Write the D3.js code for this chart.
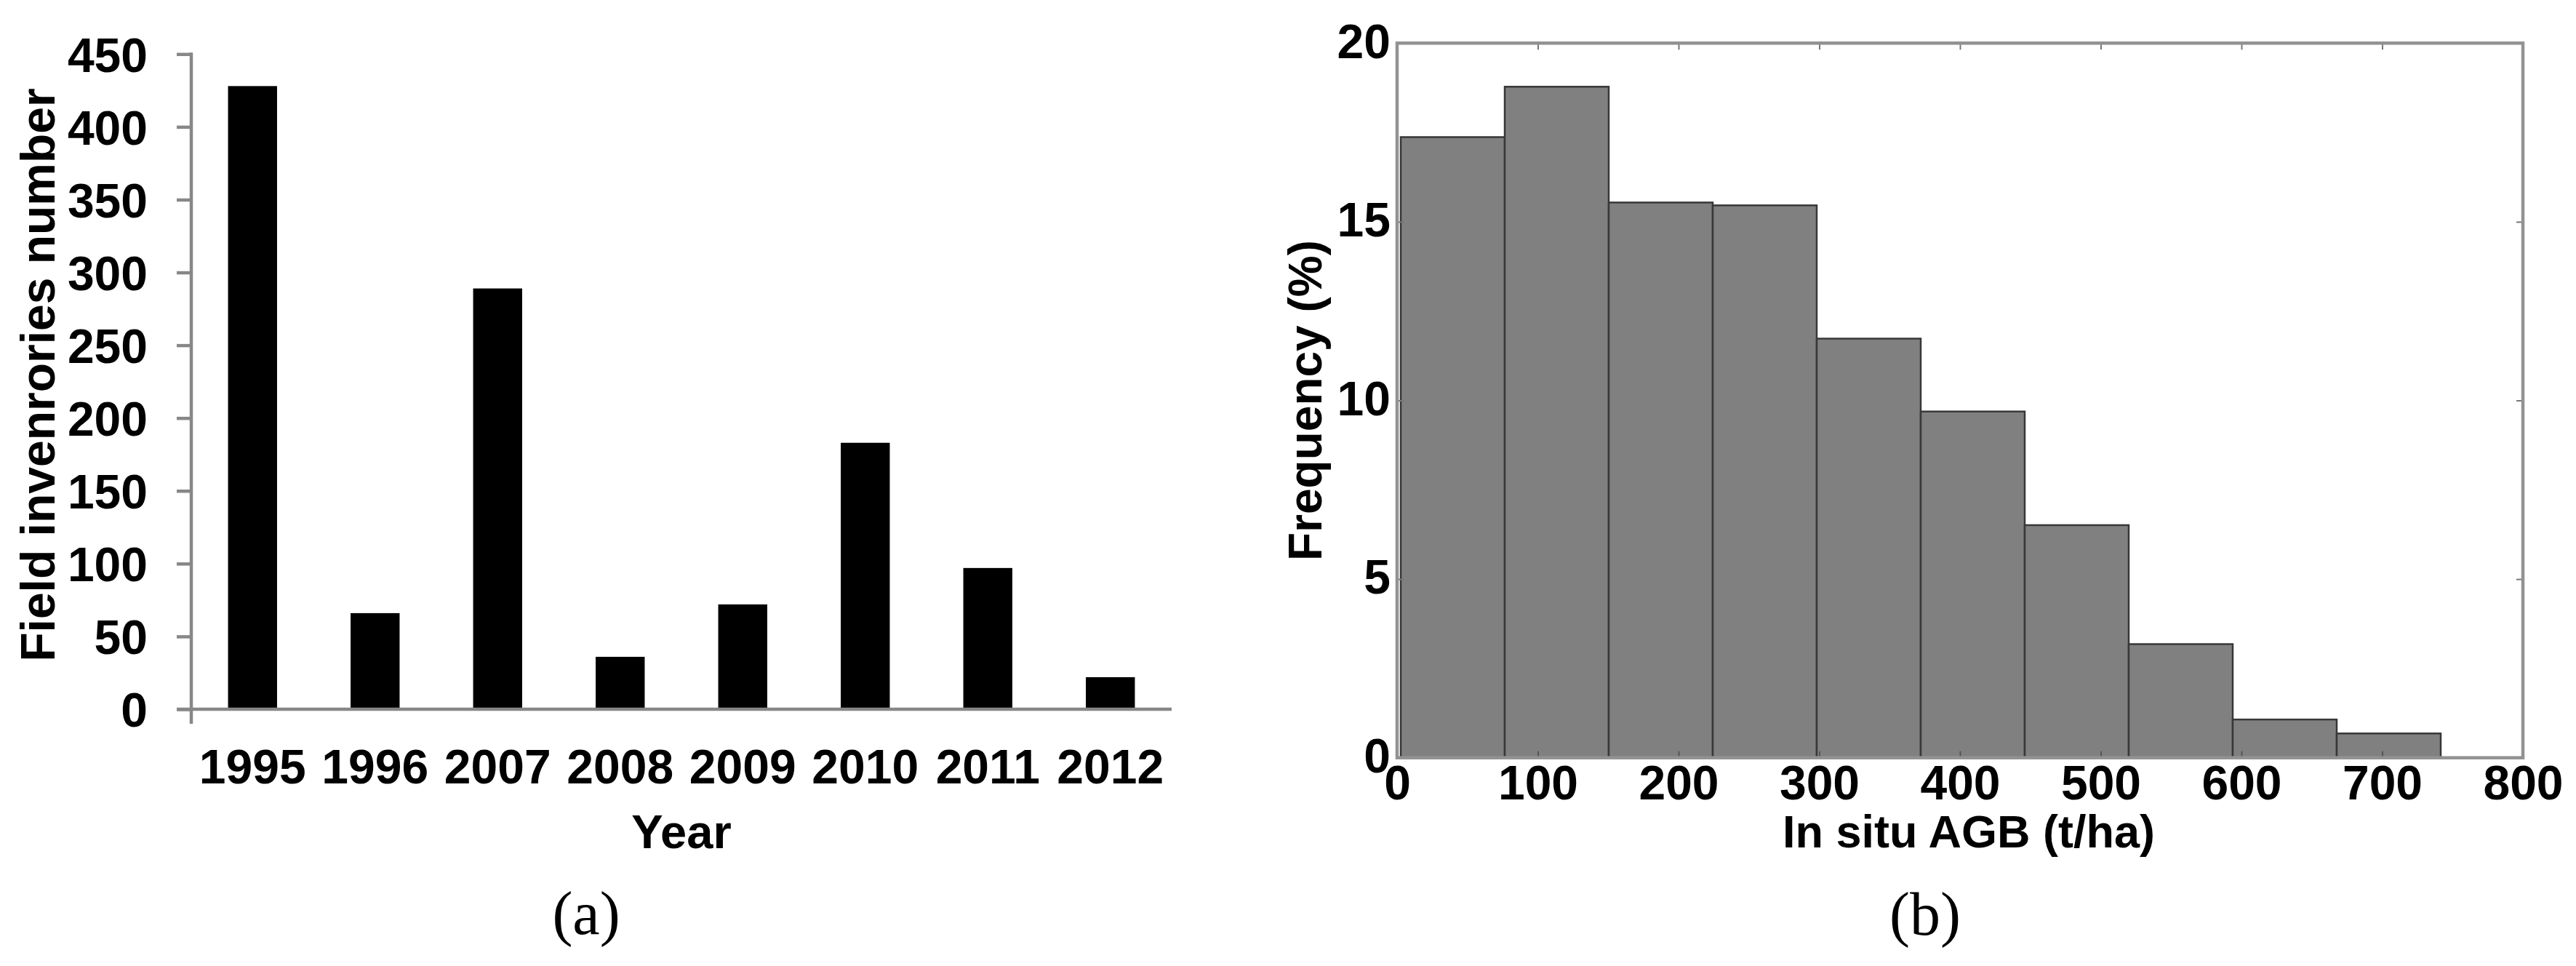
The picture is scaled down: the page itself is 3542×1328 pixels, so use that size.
<!DOCTYPE html>
<html>
<head>
<meta charset="utf-8">
<script src="https://cdn.jsdelivr.net/npm/d3@7"></script>
<style>
  html, body { margin: 0; padding: 0; background: #fff; }
  svg { display: block; }
  .sans { font-family: "Liberation Sans", Arial, sans-serif; font-weight: bold; }
  .serif { font-family: "Liberation Serif", "Times New Roman", serif; }
</style>
</head>
<body>
<script>
// ---------- Panel (a) data ----------
const years = ["1995", "1996", "2007", "2008", "2009", "2010", "2011", "2012"];
const inventories = [428, 66, 289, 36, 72, 183, 97, 22];
const yTicksA = [0, 50, 100, 150, 200, 250, 300, 350, 400, 450];

// ---------- Panel (b) data ----------
const binEdges = [2.6, 76.5, 150.4, 224.3, 298.2, 372.1, 446.0, 519.9, 593.8, 667.7, 741.6];
const frequency = [17.37, 18.78, 15.54, 15.46, 11.73, 9.69, 6.51, 3.18, 1.07, 0.68];
const xTicksB = [0, 100, 200, 300, 400, 500, 600, 700, 800];
const yTicksB = [0, 5, 10, 15, 20];

const W = 3542, H = 1328;
const svg = d3.select("body").append("svg").attr("width", W).attr("height", H);
svg.append("rect").attr("width", W).attr("height", H).attr("fill", "#fff");

// ================= Panel (a) =================
const A = { left: 263, right: 1611, top: 74.3, bottom: 975 };
const axisGrey = "#878787";
const ga = svg.append("g");

const xa = d3.scaleBand().domain(years).range([A.left, A.right])
  .paddingInner(0.6).paddingOuter(0.3);
const ya = d3.scaleLinear().domain([0, 450]).range([A.bottom, A.top]);

ga.selectAll("rect.bar").data(years).join("rect")
  .attr("class", "bar")
  .attr("x", d => xa(d))
  .attr("width", xa.bandwidth())
  .attr("y", (d, i) => ya(inventories[i]))
  .attr("height", (d, i) => ya(0) - ya(inventories[i]))
  .attr("fill", "#000");

// y axis
const yAxisA = ga.append("g").attr("transform", `translate(${A.left},0)`)
  .call(d3.axisLeft(ya).tickValues(yTicksA).tickSize(20).tickPadding(40).tickSizeOuter(0));
yAxisA.select(".domain").remove();
yAxisA.selectAll(".tick line").attr("stroke", axisGrey).attr("stroke-width", 4.5);
yAxisA.selectAll(".tick text").attr("class", "sans").attr("font-size", 66).attr("fill", "#000")
  .attr("dy", "0.36em");
// y axis line (extends below baseline)
ga.append("line").attr("x1", A.left).attr("x2", A.left)
  .attr("y1", ya(450) - 2).attr("y2", ya(0) + 20)
  .attr("stroke", axisGrey).attr("stroke-width", 4.5);
// x axis line
ga.append("line").attr("x1", A.left - 20).attr("x2", A.right)
  .attr("y1", ya(0)).attr("y2", ya(0))
  .attr("stroke", axisGrey).attr("stroke-width", 4.5);

// category labels
ga.selectAll("text.cat").data(years).join("text")
  .attr("class", "sans cat")
  .attr("x", d => xa(d) + xa.bandwidth() / 2)
  .attr("y", 1077)
  .attr("text-anchor", "middle")
  .attr("font-size", 66)
  .text(d => d);

ga.append("text").attr("class", "sans")
  .attr("x", (A.left + A.right) / 2).attr("y", 1166)
  .attr("text-anchor", "middle").attr("font-size", 65).text("Year");

ga.append("text").attr("class", "sans")
  .attr("transform", `translate(75,${(911 + 120) / 2}) rotate(-90)`)
  .attr("text-anchor", "middle").attr("font-size", 66)
  .text("Field invenrories number");

ga.append("text").attr("class", "serif")
  .attr("x", 806).attr("y", 1284).attr("text-anchor", "middle")
  .attr("font-size", 84).text("(a)");

// ================= Panel (b) =================
const B = { left: 1921, right: 3469, top: 59.3, bottom: 1041.7 };
const frameGrey = "#929292";
const gb = svg.append("g");

const xb = d3.scaleLinear().domain([0, 800]).range([B.left, B.right]);
const yb = d3.scaleLinear().domain([0, 20]).range([B.bottom, B.top]);

const bins = frequency.map((f, i) => ({ x0: binEdges[i], x1: binEdges[i + 1], f }));
gb.selectAll("rect.bin").data(bins).join("rect")
  .attr("class", "bin")
  .attr("x", d => xb(d.x0))
  .attr("width", d => xb(d.x1) - xb(d.x0))
  .attr("y", d => yb(d.f))
  .attr("height", d => yb(0) - yb(d.f))
  .attr("fill", "#808080")
  .attr("stroke", "#383838")
  .attr("stroke-width", 2.5);

// bottom axis (inward ticks)
const xAxisB = gb.append("g").attr("transform", `translate(0,${B.bottom})`)
  .call(d3.axisBottom(xb).tickValues(xTicksB).tickSize(-9).tickPadding(10).tickSizeOuter(0));
xAxisB.select(".domain").remove();
xAxisB.selectAll(".tick line").attr("stroke", "#555").attr("stroke-width", 2);
xAxisB.selectAll(".tick text").attr("class", "sans").attr("font-size", 66).attr("fill", "#000");

// top axis ticks
const xAxisBTop = gb.append("g").attr("transform", `translate(0,${B.top})`)
  .call(d3.axisTop(xb).tickValues(xTicksB).tickSize(-9).tickFormat("").tickSizeOuter(0));
xAxisBTop.select(".domain").remove();
xAxisBTop.selectAll(".tick line").attr("stroke", "#777").attr("stroke-width", 2);

// left axis
const yAxisB = gb.append("g").attr("transform", `translate(${B.left},0)`)
  .call(d3.axisLeft(yb).tickValues(yTicksB).tickSize(-9).tickPadding(9).tickSizeOuter(0));
yAxisB.select(".domain").remove();
yAxisB.selectAll(".tick line").attr("stroke", "#777").attr("stroke-width", 2);
yAxisB.selectAll(".tick text").attr("class", "sans").attr("font-size", 66).attr("fill", "#000")
  .attr("dy", "0.3em");

// right axis ticks
const yAxisBRight = gb.append("g").attr("transform", `translate(${B.right},0)`)
  .call(d3.axisRight(yb).tickValues(yTicksB).tickSize(-9).tickFormat("").tickSizeOuter(0));
yAxisBRight.select(".domain").remove();
yAxisBRight.selectAll(".tick line").attr("stroke", "#777").attr("stroke-width", 2);

// frame
gb.append("rect")
  .attr("x", B.left).attr("y", B.top)
  .attr("width", B.right - B.left).attr("height", B.bottom - B.top)
  .attr("fill", "none").attr("stroke", frameGrey).attr("stroke-width", 4.5);

gb.append("text").attr("class", "sans")
  .attr("x", 2707).attr("y", 1165).attr("text-anchor", "middle")
  .attr("font-size", 63).text("In situ AGB (t/ha)");

gb.append("text").attr("class", "sans")
  .attr("transform", `translate(1817,${(B.top + B.bottom) / 2}) rotate(-90)`)
  .attr("text-anchor", "middle").attr("font-size", 64)
  .text("Frequency (%)");

gb.append("text").attr("class", "serif")
  .attr("x", 2647).attr("y", 1285).attr("text-anchor", "middle")
  .attr("font-size", 84).text("(b)");
</script>
</body>
</html>
